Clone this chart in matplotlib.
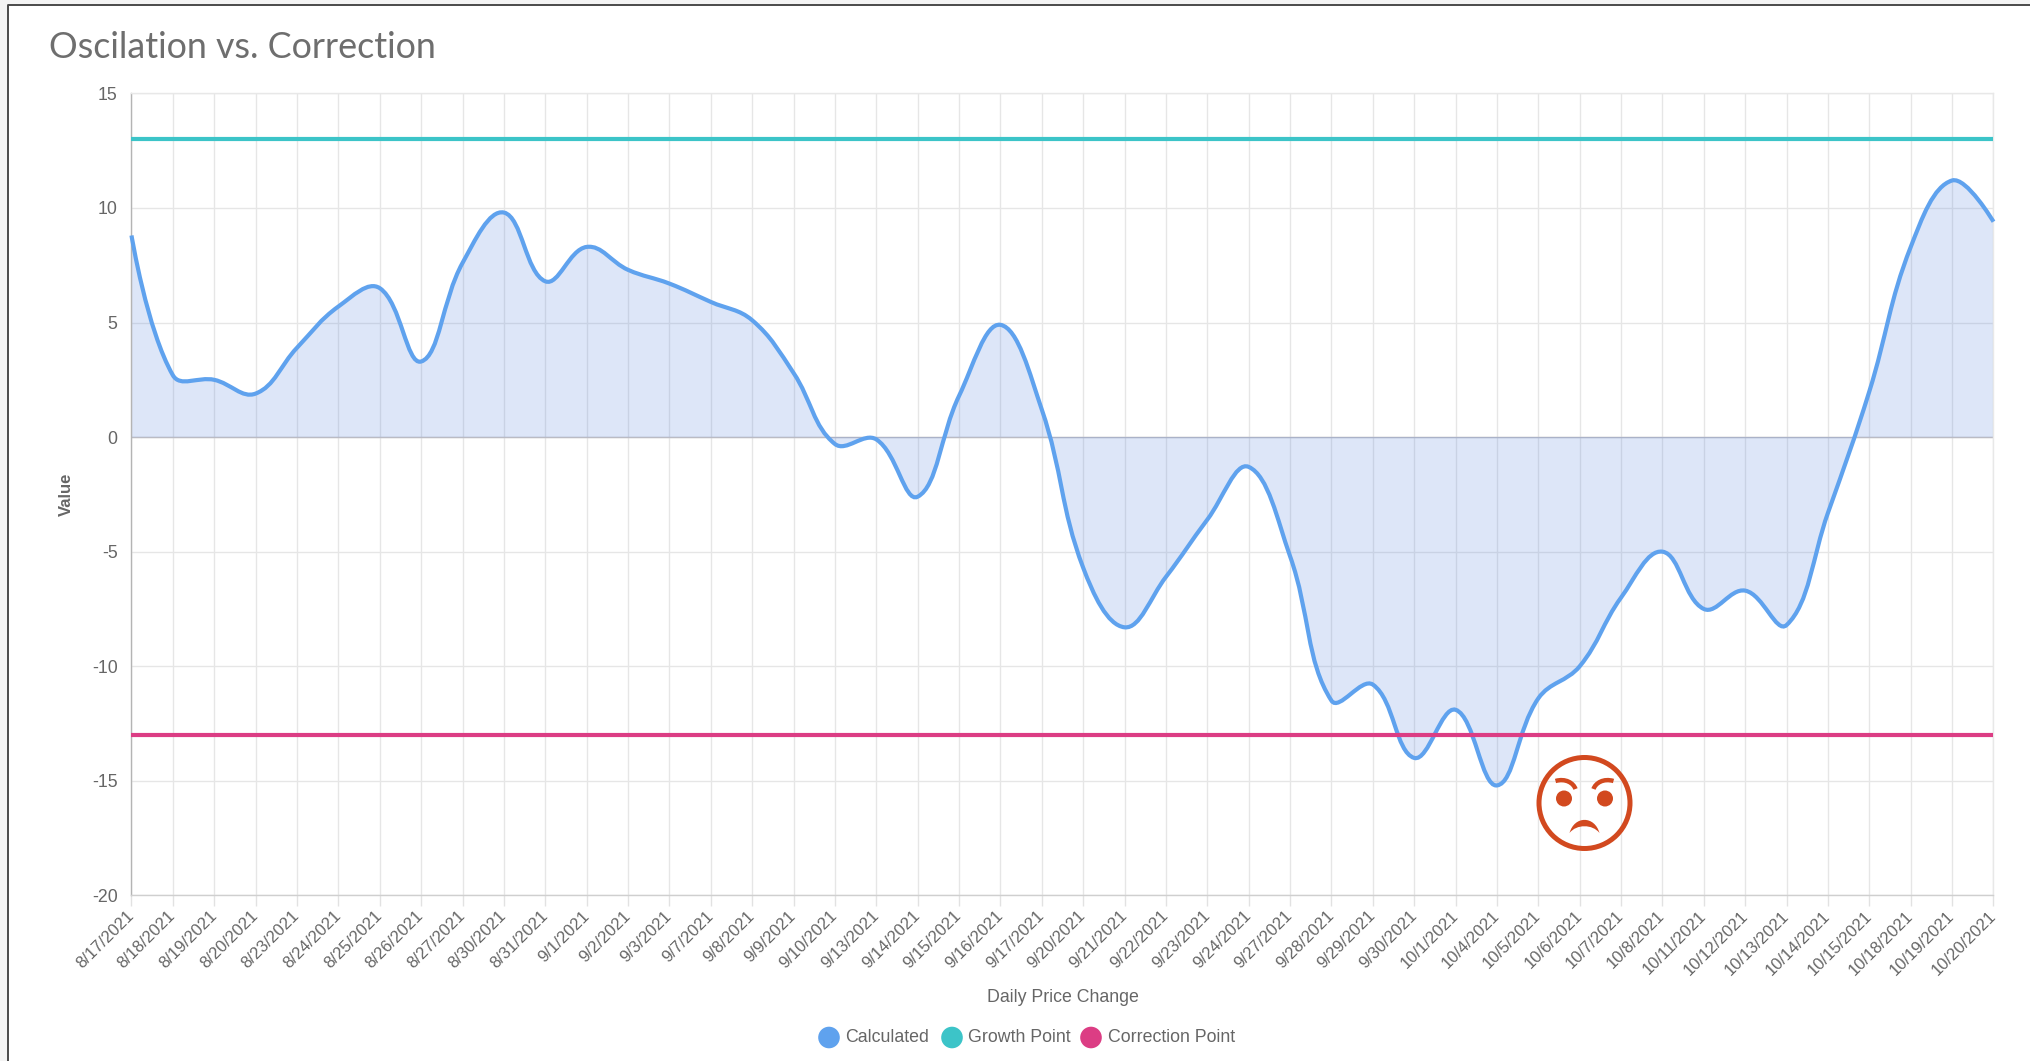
import matplotlib
matplotlib.use('Agg')
import matplotlib.pyplot as plt
import numpy as np
from matplotlib.path import Path
from matplotlib.patches import PathPatch, Circle, Rectangle

dates = ['8/17/2021','8/18/2021','8/19/2021','8/20/2021','8/23/2021','8/24/2021','8/25/2021','8/26/2021',
         '8/27/2021','8/30/2021','8/31/2021','9/1/2021','9/2/2021','9/3/2021','9/7/2021','9/8/2021',
         '9/9/2021','9/10/2021','9/13/2021','9/14/2021','9/15/2021','9/16/2021','9/17/2021','9/20/2021',
         '9/21/2021','9/22/2021','9/23/2021','9/24/2021','9/27/2021','9/28/2021','9/29/2021','9/30/2021',
         '10/1/2021','10/4/2021','10/5/2021','10/6/2021','10/7/2021','10/8/2021','10/11/2021','10/12/2021',
         '10/13/2021','10/14/2021','10/15/2021','10/18/2021','10/19/2021','10/20/2021']
calculated = [8.8,2.7,2.5,1.9,3.9,5.7,6.5,3.3,7.6,9.8,6.8,8.3,7.3,6.7,5.9,5.1,
              2.8,-0.3,-0.1,-2.6,1.8,4.9,1.2,-5.7,-8.3,-6.1,-3.6,-1.3,-5.2,-11.5,-10.8,-14.0,
              -11.9,-15.2,-11.4,-10.0,-7.0,-5.0,-7.5,-6.7,-8.2,-3.3,2.0,8.3,11.2,9.4]
growth_point = 13
correction_point = -13
y_ticks = [-20,-15,-10,-5,0,5,10,15]

W, H = 2031, 1061
BLUE, TEAL, PINK = '#5fa2ee', '#3cc4c8', '#dc3d84'
GRAY = '#666666'
FACE = '#d2491f'
tick_font = ['Liberation Sans', 'DejaVu Sans']

fig = plt.figure(figsize=(W/100, H/100), dpi=100)
L, R, T, B = 131.5, 1993.5, 93.4, 895.4
ax = fig.add_axes([L/W, 1-B/H, (R-L)/W, (B-T)/H])
ax.set_xlim(0, len(dates)-1)
ax.set_ylim(-20, 15)

x = np.arange(len(dates))
ax.set_xticks(x)
ax.set_xticklabels(dates, rotation=45, ha='right', va='center', rotation_mode='anchor',
                   fontsize=12, color=GRAY, family=tick_font)
ax.set_yticks(y_ticks)
ax.set_yticklabels(y_ticks, fontsize=12.8, color=GRAY, family=tick_font)
ax.tick_params(axis='x', length=8, width=1, color='#e2e2e2', pad=5)
ax.tick_params(axis='y', length=0, pad=10)
ax.grid(True, color='#e6e6e6', lw=1)
ax.set_axisbelow(True)
for s in ['top', 'right']:
    ax.spines[s].set_color('#e8e8e8')
ax.spines['left'].set_color('#b4b4b4')
ax.spines['bottom'].set_color('#cfcfcf')
for s in ax.spines.values():
    s.set_linewidth(1)
ax.axhline(0, color='#bdbdc4', lw=1, zorder=1.5)

# same bezier control points chart.js uses (tension .4), distances in pixels
px = x*(R-L)/(len(x)-1)
py = np.array(calculated)*(B-T)/35
verts = [(x[0], calculated[0])]
codes = [Path.MOVETO]
ctrl_in = {}
ctrl_out = {}
t = 0.4
for i in range(len(x)):
    if i == 0 or i == len(x)-1:
        ctrl_in[i] = (x[i], calculated[i])
        ctrl_out[i] = (x[i], calculated[i])
        continue
    d01 = np.hypot(px[i]-px[i-1], py[i]-py[i-1])
    d12 = np.hypot(px[i+1]-px[i], py[i+1]-py[i])
    fa = t*d01/(d01+d12)
    fb = t*d12/(d01+d12)
    dx = x[i+1]-x[i-1]
    dy = calculated[i+1]-calculated[i-1]
    ctrl_in[i] = (x[i]-fa*dx, calculated[i]-fa*dy)
    ctrl_out[i] = (x[i]+fb*dx, calculated[i]+fb*dy)
for i in range(1, len(x)):
    verts += [ctrl_out[i-1], ctrl_in[i], (x[i], calculated[i])]
    codes += [Path.CURVE4]*3

fill_path = Path(verts + [(x[-1], 0), (x[0], 0), (x[0], calculated[0])],
                 codes + [Path.LINETO, Path.LINETO, Path.LINETO])
ax.add_patch(PathPatch(fill_path, fc=(85/255, 130/255, 220/255, 0.2), ec='none', zorder=2))
ax.add_patch(PathPatch(Path(verts, codes), fc='none', ec=BLUE, lw=3, zorder=3, clip_on=False))
ax.plot([x[0], x[-1]], [growth_point]*2, color=TEAL, lw=3, zorder=4, solid_capstyle='butt')
ax.plot([x[0], x[-1]], [correction_point]*2, color=PINK, lw=3, zorder=4, solid_capstyle='butt')

# overlay in pixel coords for the card border, title, legend and the face
ov = fig.add_axes([0, 0, 1, 1], facecolor='none', zorder=5)
ov.set_xlim(0, W)
ov.set_ylim(H, 0)
ov.axis('off')
ov.add_patch(Rectangle((0, 0), 7, H, fc='#f4f4f4', ec='none'))
ov.add_patch(Rectangle((0, 0), W, 3.5, fc='#f4f4f4', ec='none'))
ov.plot([7.5, 7.5, W], [H, 4.5, 4.5], color='#4a4a4a', lw=1.4)

ov.text(49, 47, 'Oscilation vs. Correction', family=['Lato', 'DejaVu Sans'], fontsize=25.8,
        color='#6e6e6e', va='center', ha='left')
ov.text(66, 494, 'Value', family=tick_font, fontsize=12, color=GRAY, rotation=90,
        va='center', ha='center', fontweight='bold')
ov.text(1062.5, 998, 'Daily Price Change', family=tick_font, fontsize=12.8, color=GRAY,
        va='center', ha='center')

legend_names = ['Calculated', 'Growth Point', 'Correction Point']
legend_colors = [BLUE, TEAL, PINK]
legend_x = [829, 952, 1091]
for name, col, lx in zip(legend_names, legend_colors, legend_x):
    ov.add_patch(Circle((lx, 1037.5), 10.8, fc=col, ec='none'))
    ov.text(lx+16.5, 1037.5, name, family=tick_font, fontsize=12.8, color=GRAY, va='center', ha='left')

# angry face
cx, cy = 1584.5, 803
ov.add_patch(Circle((cx, cy), 45.5, fc='none', ec=FACE, lw=3.6))
ov.add_patch(Circle((cx-20.5, cy-4.5), 8, fc=FACE, ec='none'))
ov.add_patch(Circle((cx+20.5, cy-4.5), 8, fc=FACE, ec='none'))
brow_l = Path([(cx-29, cy-22), (cx-19, cy-25), (cx-11, cy-20), (cx-9, cy-14)],
              [Path.MOVETO, Path.CURVE4, Path.CURVE4, Path.CURVE4])
brow_r = Path([(cx+29, cy-22), (cx+19, cy-25), (cx+11, cy-20), (cx+9, cy-14)],
              [Path.MOVETO, Path.CURVE4, Path.CURVE4, Path.CURVE4])
ov.add_patch(PathPatch(brow_l, fc='none', ec=FACE, lw=3.2))
ov.add_patch(PathPatch(brow_r, fc='none', ec=FACE, lw=3.2))
mouth = Path([(cx-15, cy+30), (cx-10, cy+12.5), (cx+10, cy+12.5), (cx+15, cy+30),
              (cx+8, cy+21), (cx-8, cy+21), (cx-15, cy+30), (cx-15, cy+30)],
             [Path.MOVETO, Path.CURVE4, Path.CURVE4, Path.CURVE4,
              Path.CURVE4, Path.CURVE4, Path.CURVE4, Path.CLOSEPOLY])
ov.add_patch(PathPatch(mouth, fc=FACE, ec='none'))

fig.savefig('out.png', dpi=100, facecolor='white')
